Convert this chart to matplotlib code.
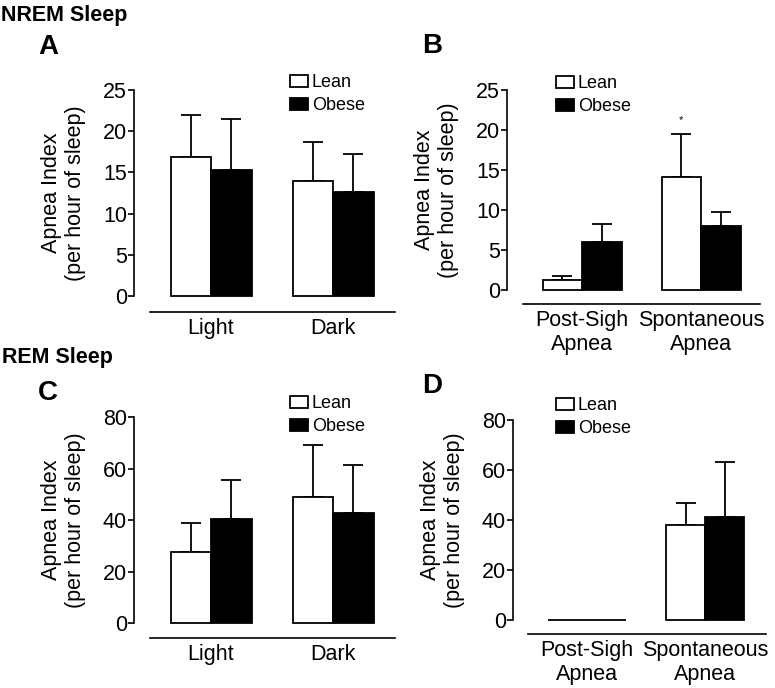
import matplotlib

matplotlib.use("Agg")
import matplotlib.pyplot as plt

plt.rcParams["font.family"] = ["Liberation Sans", "DejaVu Sans"]

W, H = 775, 688

DAY_LABELS = ["Light", "Dark"]
TYPE_LABELS = ["Post-Sigh\nApnea", "Spontaneous\nApnea"]

nrem_day_lean = [16.9, 14.0]
nrem_day_lean_err = [5.1, 4.7]
nrem_day_obese = [15.3, 12.6]
nrem_day_obese_err = [6.2, 4.6]

nrem_type_lean = [1.25, 14.1]
nrem_type_lean_err = [0.55, 5.4]
nrem_type_obese = [5.96, 7.96]
nrem_type_obese_err = [2.3, 1.75]

rem_day_lean = [27.6, 48.9]
rem_day_lean_err = [11.2, 20.2]
rem_day_obese = [40.4, 42.7]
rem_day_obese_err = [15.1, 18.7]

rem_type_lean = [0.0, 38.1]
rem_type_lean_err = [0.0, 8.6]
rem_type_obese = [0.0, 41.3]
rem_type_obese_err = [0.0, 21.8]


def fx(px):
    return px / W


def fy(py):
    return 1 - py / H


def panel(fig, left, right, top, bottom, c0, c1, bar_px, drop_px,
          labels, lean, lean_err, obese, obese_err, ymax, yticks, leg_xy):
    ax = fig.add_axes([fx(left), fy(bottom), (right - left) / W, (bottom - top) / H])
    step = c1 - c0
    width = bar_px / step
    xs = [0, 1]
    lean_x = [x - width / 2 for x in xs]
    obese_x = [x + width / 2 for x in xs]
    b1 = ax.bar(lean_x, lean, width, color="white", edgecolor="black", lw=1.3,
                clip_on=False, label="Lean", zorder=2)
    b2 = ax.bar(obese_x, obese, width, color="black", edgecolor="black", lw=1.3,
                clip_on=False, label="Obese", zorder=2)
    for xx, vals, errs in [(lean_x, lean, lean_err), (obese_x, obese, obese_err)]:
        keep = [i for i, e in enumerate(errs) if e > 0]
        ax.errorbar([xx[i] for i in keep], [vals[i] for i in keep],
                    yerr=[[0] * len(keep), [errs[i] for i in keep]],
                    fmt="none", ecolor="black", elinewidth=1.3, capsize=7.5,
                    capthick=1.3, zorder=1, clip_on=False)
    ax.set_xlim((left - c0) / step, (right - c0) / step)
    ax.set_ylim(0, ymax)
    ax.set_yticks(yticks)
    ax.set_xticks(xs)
    ax.set_xticklabels(labels, linespacing=1.0)
    ax.tick_params(axis="x", length=0, pad=4, labelsize=15.5)
    ax.tick_params(axis="y", length=4, width=1.2, pad=1, labelsize=15.5)
    for s in ["top", "right"]:
        ax.spines[s].set_visible(False)
    ax.spines["left"].set_linewidth(1.2)
    ax.spines["bottom"].set_linewidth(1.2)
    ax.spines["bottom"].set_position(("outward", drop_px * 0.72))
    ax.spines["bottom"].set_bounds(-0.5, (right - c0) / step)
    ax.set_ylabel("Apnea Index\n(per hour of sleep)", fontsize=15.5,
                  labelpad=12, linespacing=1.2)
    ax.legend(handles=[b1, b2], frameon=False, fontsize=13, loc="upper left",
              bbox_to_anchor=(fx(leg_xy[0]), fy(leg_xy[1])),
              bbox_transform=fig.transFigure, borderpad=0, borderaxespad=0,
              handlelength=1.0, handleheight=0.65, handletextpad=0.2,
              labelspacing=0.35)
    return ax


fig = plt.figure(figsize=(W / 100, H / 100), dpi=100)

panel(fig, 134, 395, 90, 296, 211, 333, 40.5, 16, DAY_LABELS,
      nrem_day_lean, nrem_day_lean_err, nrem_day_obese, nrem_day_obese_err,
      25, [0, 5, 10, 15, 20, 25], (290, 74))
ax_b = panel(fig, 507, 760, 90, 290, 582, 701, 39.5, 14, TYPE_LABELS,
             nrem_type_lean, nrem_type_lean_err, nrem_type_obese, nrem_type_obese_err,
             25, [0, 5, 10, 15, 20, 25], (556, 75))
panel(fig, 134, 395, 417, 623, 211, 333, 40.5, 15, DAY_LABELS,
      rem_day_lean, rem_day_lean_err, rem_day_obese, rem_day_obese_err,
      80, [0, 20, 40, 60, 80], (290, 395))
panel(fig, 513, 766, 420, 620, 587, 705, 39, 14, TYPE_LABELS,
      rem_type_lean, rem_type_lean_err, rem_type_obese, rem_type_obese_err,
      80, [0, 20, 40, 60, 80], (556, 397))

# significance mark on spontaneous lean (panel B)
ax_b.text(1 - 39.5 / 119 / 2, 21.3, "*", ha="center", va="center", fontsize=8)

fig.text(fx(1), fy(15), "NREM Sleep", fontsize=15.5, fontweight="bold", va="center")
fig.text(fx(2), fy(357), "REM Sleep", fontsize=15.5, fontweight="bold", va="center")
for letter, x, y in [("A", 38, 47), ("B", 422, 46), ("C", 38, 393), ("D", 422, 386)]:
    fig.text(fx(x), fy(y), letter, fontsize=20, fontweight="bold", va="center")

fig.savefig("out.png", dpi=100)
